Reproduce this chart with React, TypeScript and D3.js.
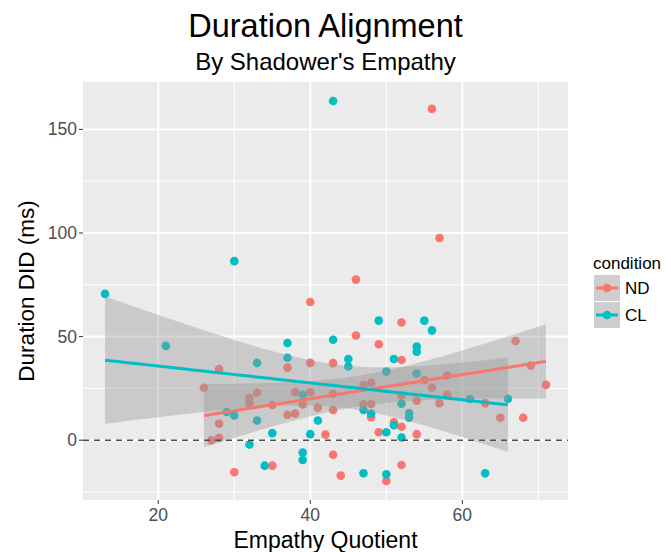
import React from "react";
import * as d3 from "d3";

// ND condition
const ndX = [40, 37, 40, 28, 26, 33, 32, 32, 35, 38, 40, 39, 41, 37, 38, 28, 27, 28, 42, 35, 30,
  46, 52, 49, 43, 52, 55, 58, 56, 47, 48, 43, 52, 58, 54, 57, 47, 48, 63, 67, 69, 71, 65, 68,
  43, 48, 51, 52, 49, 54, 43, 44, 50, 52, 56, 57, 46];
const ndY = [66.7, 35.0, 37.3, 34.3, 25.3, 22.9, 20.3, 17.9, 17.0, 23.2, 23.1, 17.3, 15.7, 12.3, 12.8, 8.0, 0, 1.1, 2.7, -12.3, -15.5,
  50.5, 56.8, 46.3, 37.2, 38.7, 29.0, 31.2, 25.4, 26.6, 27.7, 22.4, 21.5, 21.9, 19.1, 17.8, 17.3, 17.5, 17.9, 47.9, 36.0, 26.7, 10.8, 10.8,
  14.6, 11.1, 8.7, 6.5, 3.8, 2.9, -7.0, -17.1, -19.7, -12.0, 159.9, 97.6, 77.5];
// CL condition
const clX = [13, 21, 30, 37, 37, 33, 39, 29, 30, 33, 35, 40, 41, 32, 39, 39, 34, 43, 43, 49, 55,
  56, 54, 54, 45, 45, 51, 50, 54, 52, 61, 66, 47, 48, 53, 53, 51, 50, 52, 47, 50, 63];
const clY = [70.6, 45.5, 86.4, 46.9, 39.8, 37.3, 21.9, 13.6, 11.9, 9.5, 3.4, 2.9, 9.5, -2.1, -6.0, -9.6, -12.3, 48.5, 163.7, 57.7, 57.7,
  53.0, 45.2, 42.7, 39.2, 35.6, 39.2, 33.1, 32.2, 17.6, 19.9, 20.0, 14.6, 12.8, 13.1, 10.9, 7.2, 3.8, 1.3, -16.0, -16.5, -16.0];

const conditions = ["ND", "CL"];
const colors = ["#F8766D", "#00BFC4"];
const xTicks = [20, 40, 60];
const yTicks = [0, 50, 100, 150];
const xMinor = [10, 30, 50, 70];
const yMinor = [-25, 25, 75, 125];

const W = 671, H = 552;
const P = { l: 83, r: 568, t: 82, b: 500 };

function fit(xs: number[], ys: number[]) {
  const n = xs.length;
  const xb = d3.mean(xs)!, yb = d3.mean(ys)!;
  let sxx = 0, sxy = 0;
  xs.forEach((x, i) => { sxx += (x - xb) ** 2; sxy += (x - xb) * (ys[i] - yb); });
  const b = sxy / sxx, a = yb - b * xb;
  let sse = 0;
  xs.forEach((x, i) => { sse += (ys[i] - a - b * x) ** 2; });
  const df = n - 2;
  const s = Math.sqrt(sse / df);
  const t = 1.96 + 2.4 / df;
  const [x0, x1] = d3.extent(xs) as [number, number];
  const pts = d3.range(0, 81).map(k => {
    const x = x0 + (x1 - x0) * k / 80;
    const yh = a + b * x;
    const se = s * Math.sqrt(1 / n + (x - xb) ** 2 / sxx);
    return { x, y: yh, lo: yh - t * se, hi: yh + t * se };
  });
  return pts;
}

export default function App() {
  const allX = [...ndX, ...clX], allY = [...ndY, ...clY];
  const [xmn, xmx] = d3.extent(allX) as [number, number];
  const [ymn, ymx] = d3.extent(allY) as [number, number];
  const xe = (xmx - xmn) * 0.05, ye = (ymx - ymn) * 0.05;
  const x = d3.scaleLinear().domain([xmn - xe, xmx + xe]).range([P.l, P.r]);
  const y = d3.scaleLinear().domain([ymn - ye, ymx + ye]).range([P.b, P.t]);
  const series = [
    { name: conditions[0], xs: ndX, ys: ndY, color: colors[0] },
    { name: conditions[1], xs: clX, ys: clY, color: colors[1] },
  ];
  const fits = series.map(s => fit(s.xs, s.ys));
  const area = d3.area<any>().x(d => x(d.x)).y0(d => y(d.lo)).y1(d => y(d.hi));
  const line = d3.line<any>().x(d => x(d.x)).y(d => y(d.y));
  const font = "Liberation Sans, Arial, Helvetica, sans-serif";
  return (
    <svg width={W} height={H} style={{ position: "absolute", left: 0, top: 0, background: "#fff" }} fontFamily={font}>
      <rect x={P.l} y={P.t} width={P.r - P.l} height={P.b - P.t} fill="#EBEBEB" />
      {xMinor.filter(v => x(v) > P.l && x(v) < P.r).map(v => (
        <line key={"xm" + v} x1={x(v)} x2={x(v)} y1={P.t} y2={P.b} stroke="#fff" strokeWidth={1} />
      ))}
      {yMinor.map(v => (
        <line key={"ym" + v} x1={P.l} x2={P.r} y1={y(v)} y2={y(v)} stroke="#fff" strokeWidth={1} />
      ))}
      {xTicks.map(v => (
        <line key={"xg" + v} x1={x(v)} x2={x(v)} y1={P.t} y2={P.b} stroke="#fff" strokeWidth={2} />
      ))}
      {yTicks.map(v => (
        <line key={"yg" + v} x1={P.l} x2={P.r} y1={y(v)} y2={y(v)} stroke="#fff" strokeWidth={2} />
      ))}
      {series.map(s => s.xs.map((xv, i) => (
        <circle key={s.name + i} cx={x(xv)} cy={y(s.ys[i])} r={4.3} fill={s.color} />
      )))}
      {fits.map((f, i) => (
        <path key={"band" + i} d={area(f)!} fill="#999999" fillOpacity={0.4} />
      ))}
      {fits.map((f, i) => (
        <path key={"line" + i} d={line(f)!} fill="none" stroke={series[i].color} strokeWidth={3} />
      ))}
      <line x1={P.l} x2={P.r} y1={y(0)} y2={y(0)} stroke="#4d4d4d" strokeWidth={1.5} strokeDasharray="6,5" />
      {/* axes ticks */}
      {xTicks.map(v => (
        <g key={"xt" + v}>
          <line x1={x(v)} x2={x(v)} y1={P.b} y2={P.b + 4} stroke="#333" strokeWidth={1} />
          <text x={x(v)} y={P.b + 21} textAnchor="middle" fontSize={17.5} fill="#4d4d4d">{v}</text>
        </g>
      ))}
      {yTicks.map(v => (
        <g key={"yt" + v}>
          <line x1={P.l - 4} x2={P.l} y1={y(v)} y2={y(v)} stroke="#333" strokeWidth={1} />
          <text x={P.l - 6} y={y(v) + 6} textAnchor="end" fontSize={17.5} fill="#4d4d4d">{v}</text>
        </g>
      ))}
      <text x={(P.l + P.r) / 2} y={548} textAnchor="middle" fontSize={23} fill="#000">Empathy Quotient</text>
      <text transform={`translate(34,${(P.t + P.b) / 2}) rotate(-90)`} textAnchor="middle" fontSize={22.5} fill="#000">Duration DID (ms)</text>
      <text x={(P.l + P.r) / 2} y={37} textAnchor="middle" fontSize={32.5} fill="#000">Duration Alignment</text>
      <text x={(P.l + P.r) / 2} y={70} textAnchor="middle" fontSize={24} fill="#000">By Shadower's Empathy</text>
      {/* legend */}
      <text x={593} y={269} fontSize={17} fill="#000">condition</text>
      {series.map((s, i) => (
        <g key={"lg" + i} transform={`translate(594,${275 + i * 27})`}>
          <rect width={26} height={26} fill="#F2F2F2" />
          <rect width={26} height={26} fill="#999999" fillOpacity={0.4} />
          <line x1={2} x2={24} y1={13} y2={13} stroke={s.color} strokeWidth={3} />
          <circle cx={13} cy={13} r={4.3} fill={s.color} />
          <text x={31} y={19} fontSize={17} fill="#000">{s.name}</text>
        </g>
      ))}
    </svg>
  );
}
